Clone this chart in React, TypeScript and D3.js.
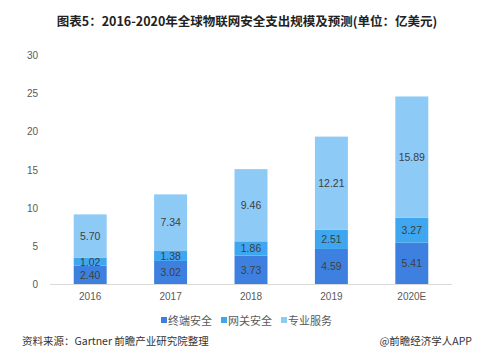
import React from "react";
import * as d3 from "d3";

const categories = ["2016", "2017", "2018", "2019", "2020E"];
const endpoint = [2.4, 3.02, 3.73, 4.59, 5.41];
const gateway = [1.02, 1.38, 1.86, 2.51, 3.27];
const services = [5.7, 7.34, 9.46, 12.21, 15.89];
const seriesNames = ["终端安全", "网关安全", "专业服务"];
const yTicks = [0, 5, 10, 15, 20, 25, 30];

const colors = ["#3d80e0", "#3fa6f0", "#8ecaf6"];
const fontFam = "'Microsoft YaHei','Noto Sans CJK SC','Noto Sans',sans-serif";
const numFont = "'Liberation Sans',Arial,sans-serif";

export default function App() {
  const W = 494, H = 355;
  const x = d3.scaleBand<string>().domain(categories).range([50, 452]).paddingInner(0.59).paddingOuter(0.295);
  const y = d3.scaleLinear().domain([0, 30]).range([284, 55]);
  const rows = categories.map((c, i) => ({ cat: c, a: endpoint[i], b: gateway[i], c: services[i] }));
  const stack = d3.stack<any>().keys(["a", "b", "c"])(rows);

  const legendX = [161, 221, 281];
  return (
    <svg width={W} height={H} style={{ position: "absolute", left: 0, top: 0, background: "#fff" }} fontFamily={fontFam}>
      <text x={247} y={26} textAnchor="middle" fontSize={12.5} fontWeight="bold" fill="#222">
        图表5：2016-2020年全球物联网安全支出规模及预测(单位：亿美元)
      </text>
      {yTicks.map((t) => (
        <text key={t} x={38} y={y(t) + 4} textAnchor="end" fontSize={10} fontFamily={numFont} fill="#595959">{t}</text>
      ))}
      <line x1={50} x2={452} y1={y(0) + 0.5} y2={y(0) + 0.5} stroke="#d9d9d9" />
      {stack.map((s, si) =>
        s.map((d, i) => (
          <g key={si + "-" + i}>
            <rect x={x(categories[i])} width={x.bandwidth()} y={y(d[1])} height={y(d[0]) - y(d[1])} fill={colors[si]} />
            <text x={(x(categories[i]) as number) + x.bandwidth() / 2} y={(y(d[0]) + y(d[1])) / 2 + 4} textAnchor="middle" fontSize={10.5} fontFamily={numFont} fill="#404040">
              {(d[1] - d[0]).toFixed(2)}
            </text>
          </g>
        ))
      )}
      {categories.map((c) => (
        <text key={c} x={(x(c) as number) + x.bandwidth() / 2} y={300} textAnchor="middle" fontSize={10} fontFamily={numFont} fill="#595959">{c}</text>
      ))}
      {seriesNames.map((n, i) => (
        <g key={n}>
          <rect x={legendX[i]} y={317} width={6} height={6} fill={colors[i]} />
          <text x={legendX[i] + 7} y={324.5} fontSize={11} fill="#595959">{n}</text>
        </g>
      ))}
      <text x={22} y={345} fontSize={10.5} fill="#333">资料来源：Gartner 前瞻产业研究院整理</text>
      <text x={472} y={345} textAnchor="end" fontSize={10.5} fill="#333">@前瞻经济学人APP</text>
    </svg>
  );
}
